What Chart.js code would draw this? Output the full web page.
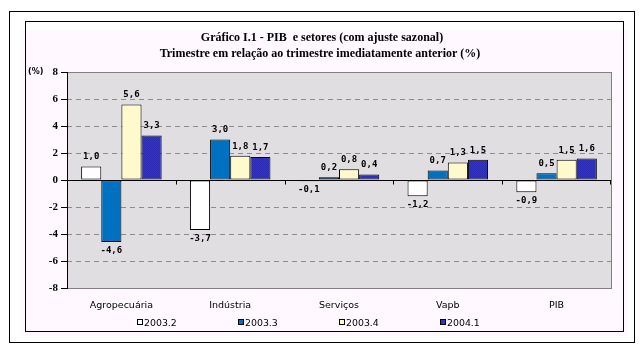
<!DOCTYPE html>
<html>
<head>
<meta charset="utf-8">
<script src="https://cdn.jsdelivr.net/npm/chart.js@4.4.1/dist/chart.umd.min.js"></script>
<style>
  html, body { margin: 0; padding: 0; background: #fff; overflow: hidden; }
</style>
</head>
<body>
<canvas id="pib" width="644" height="351"></canvas>
<script>
// dados do gráfico
const setores = ['Agropecuária', 'Indústria', 'Serviços', 'Vapb', 'PIB'];
const trimestres = ['2003.2', '2003.3', '2003.4', '2004.1'];
const t2003_2 = [1.0, -3.7, -0.1, -1.2, -0.9];
const t2003_3 = [-4.6, 3.0, 0.2, 0.7, 0.5];
const t2003_4 = [5.6, 1.8, 0.8, 1.3, 1.5];
const t2004_1 = [3.3, 1.7, 0.4, 1.5, 1.6];
const yTicks = [-8, -6, -4, -2, 0, 2, 4, 6, 8];

// hachura do azul escuro
const pc = document.createElement('canvas');
pc.width = 2; pc.height = 2;
const pctx = pc.getContext('2d');
pctx.fillStyle = '#3434CC';
pctx.fillRect(0, 0, 2, 2);
pctx.fillStyle = '#2A2AB4';
pctx.fillRect(0, 0, 1, 1);
pctx.fillRect(1, 1, 1, 1);
const hatch = pctx.createPattern(pc, 'repeat');

const cores = ['#FFFFFF', '#0070C0', '#FFFACD', hatch];
const legendaCores = ['#FFFFFF', '#0070C0', '#FFFACD', '#3434CC'];

const moldura = {
    id: 'moldura',
    beforeDraw(chart) {
        const c = chart.ctx;
        const a = chart.chartArea;
        c.save();
        c.fillStyle = '#fff';
        c.fillRect(0, 0, chart.width, chart.height);
        c.fillStyle = '#FFF8FF';
        c.fillRect(21, 30, 607, 306);
        c.strokeStyle = '#000';
        c.lineWidth = 1;
        c.strokeRect(9.5, 11.5, 625, 331);
        c.strokeRect(25.5, 21.5, 598, 310);
        // fundo da área do gráfico
        c.fillStyle = '#E0DEE0';
        c.fillRect(a.left, a.top, a.right - a.left, a.bottom - a.top);
        // linhas de grade tracejadas
        const y = chart.scales.y;
        c.strokeStyle = '#8C8C8C';
        c.setLineDash([5, 4]);
        yTicks.forEach(v => {
            if (v === 0 || v === 8 || v === -8) return;
            const py = Math.round(y.getPixelForValue(v)) + 0.5;
            c.beginPath();
            c.moveTo(a.left, py);
            c.lineTo(a.right, py);
            c.stroke();
        });
        c.setLineDash([]);
        c.strokeStyle = '#808080';
        c.strokeRect(Math.round(a.left) + 0.5, Math.round(a.top) + 0.5, Math.round(a.right - a.left), Math.round(a.bottom - a.top));
        // títulos
        c.fillStyle = '#000';
        c.textAlign = 'center';
        c.textBaseline = 'middle';
        c.font = 'bold 12px "Liberation Serif"';
        c.fillText('Gráfico I.1 - PIB  e setores (com ajuste sazonal)', 322, 38);
        c.fillText('Trimestre em relação ao trimestre imediatamente anterior (%)', 320, 54);
        c.font = 'bold 8px "DejaVu Sans"';
        c.textAlign = 'left';
        c.fillText('(%)', 28, 72);
        c.restore();
    },
    afterDatasetsDraw(chart) {
        const c = chart.ctx;
        const a = chart.chartArea;
        const y = chart.scales.y;
        const x = chart.scales.x;
        const y0 = Math.round(y.getPixelForValue(0)) + 0.5;
        const passo = x.getPixelForValue(1) - x.getPixelForValue(0);
        c.save();
        c.strokeStyle = '#000';
        c.lineWidth = 1;
        c.beginPath();
        c.moveTo(a.left, y0);
        c.lineTo(a.right, y0);
        for (let i = 0; i < setores.length; i++) {
            const bx = Math.round(Math.min(x.getPixelForValue(i) + passo / 2, a.right - 1)) + 0.5;
            c.moveTo(bx, y0);
            c.lineTo(bx, y0 + 4);
        }
        c.stroke();
        // rótulos dos valores
        c.fillStyle = '#000';
        c.font = 'bold 9px "DejaVu Sans Mono"';
        c.textAlign = 'center';
        chart.data.datasets.forEach((ds, di) => {
            const meta = chart.getDatasetMeta(di);
            meta.data.forEach((bar, i) => {
                const v = ds.data[i];
                const txt = v.toFixed(1).replace('.', ',');
                if (v >= 0) {
                    c.textBaseline = 'bottom';
                    c.fillText(txt, bar.x, bar.y - 5);
                } else {
                    c.textBaseline = 'top';
                    c.fillText(txt, bar.x, bar.y + 4);
                }
            });
        });
        // legenda
        c.font = '9.4px "DejaVu Sans"';
        c.textAlign = 'left';
        c.textBaseline = 'middle';
        trimestres.forEach((t, i) => {
            const lx = 137 + i * 101;
            c.fillStyle = legendaCores[i];
            c.fillRect(lx, 319, 6, 6);
            c.strokeStyle = '#000';
            c.strokeRect(lx + 0.5, 319.5, 5, 5);
            c.fillStyle = '#000';
            c.fillText(t, lx + 7, 324);
        });
        c.restore();
    }
};

const chart = new Chart(document.getElementById('pib').getContext('2d'), {
    type: 'bar',
    data: {
        labels: setores,
        datasets: [
            { label: trimestres[0], data: t2003_2, backgroundColor: cores[0] },
            { label: trimestres[1], data: t2003_3, backgroundColor: cores[1] },
            { label: trimestres[2], data: t2003_4, backgroundColor: cores[2] },
            { label: trimestres[3], data: t2004_1, backgroundColor: cores[3] }
        ].map(d => Object.assign(d, { borderColor: '#000', borderWidth: 1, borderSkipped: false }))
    },
    options: {
        responsive: false,
        animation: false,
        datasets: { bar: { categoryPercentage: 0.74, barPercentage: 1 } },
        layout: { padding: { left: 47, right: 33, top: 72, bottom: 33 } },
        plugins: { legend: { display: false }, title: { display: false }, tooltip: { enabled: false } },
        scales: {
            y: {
                min: -8,
                max: 8,
                afterFit: s => { s.width = 20; },
                afterBuildTicks: s => { s.ticks = yTicks.map(v => ({ value: v })); },
                ticks: { color: '#000', padding: 3, font: { family: 'Liberation Serif', weight: 'bold', size: 11 } },
                grid: { drawOnChartArea: false, tickLength: 6, color: '#000' },
                border: { color: '#000' }
            },
            x: {
                afterFit: s => { s.height = 30; },
                ticks: { color: '#000', padding: 12, font: { family: 'DejaVu Sans', size: 9.5 } },
                grid: { display: false, drawTicks: false },
                border: { display: false }
            }
        }
    },
    plugins: [moldura]
});
</script>
</body>
</html>
